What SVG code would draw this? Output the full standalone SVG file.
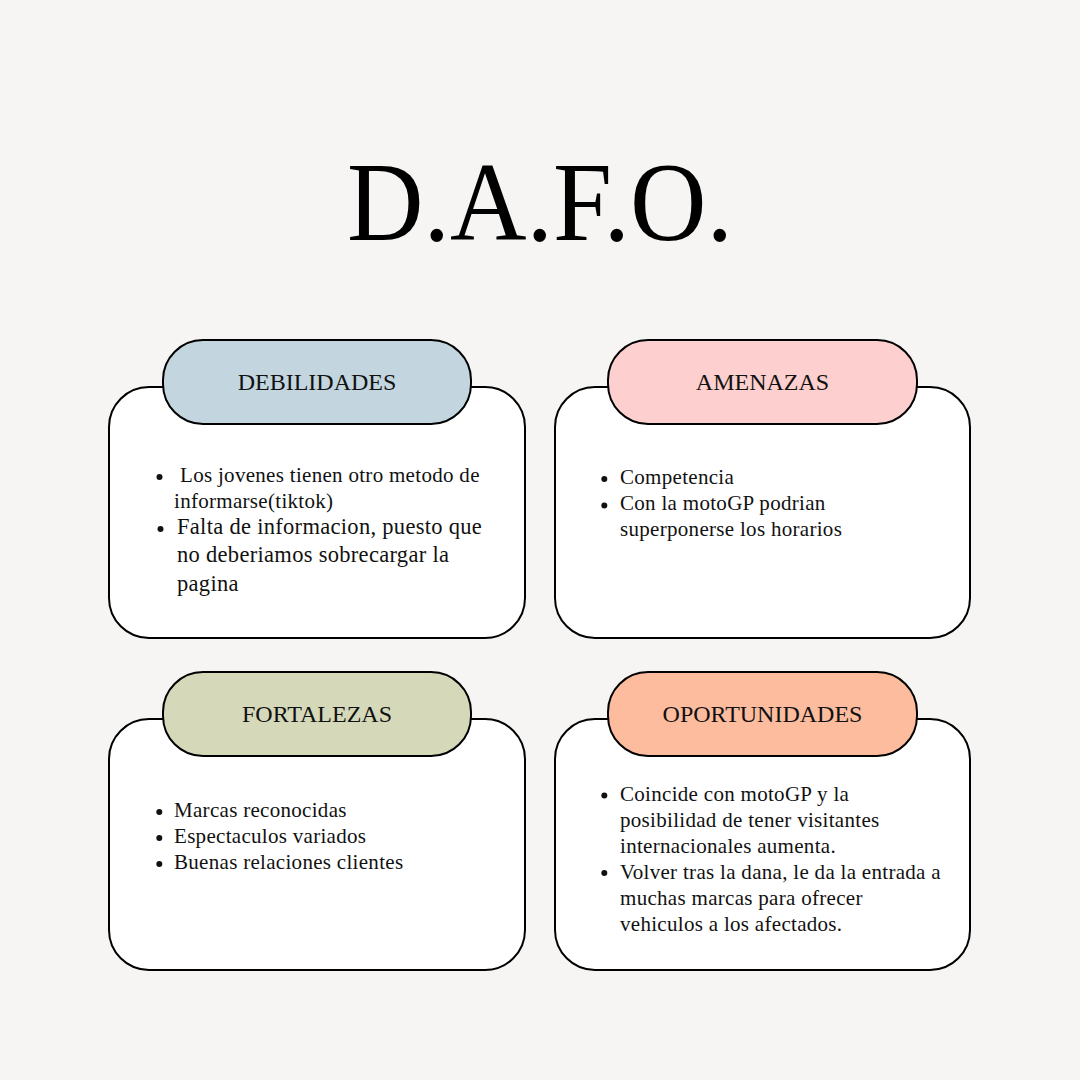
<svg xmlns="http://www.w3.org/2000/svg" width="1080" height="1080" viewBox="0 0 1080 1080">
  <style>
    .body { fill: #ffffff; stroke: #000000; stroke-width: 2; }
    .tab { stroke: #000000; stroke-width: 2; }
    .title { font-family: "Liberation Serif", "DejaVu Serif", serif; font-size: 112px; fill: #000000; }
    .head { font-family: "Liberation Serif", "DejaVu Serif", serif; font-size: 24px; fill: #111111; text-anchor: middle; }
    .item { font-family: "Liberation Serif", "DejaVu Serif", serif; font-size: 21px; letter-spacing: 0.3px; fill: #111111; }
    .big { font-size: 22.5px; }
    .dot { fill: #111111; }
  </style>
  <rect width="1080" height="1080" fill="#f6f5f3"/>

  <text class="title" x="540" y="240" text-anchor="middle" textLength="386" lengthAdjust="spacingAndGlyphs">D.A.F.O.</text>

  <!-- Debilidades -->
  <g id="debilidades">
    <rect class="body" x="109" y="387" width="416" height="251" rx="40"/>
    <rect class="tab" x="163" y="340" width="308" height="84" rx="40" fill="#c3d6df"/>
    <text class="head" x="317" y="390">DEBILIDADES</text>
    <circle class="dot" cx="159.5" cy="477" r="3"/>
    <text class="item" x="180" y="482">Los jovenes tienen otro metodo de</text>
    <text class="item" x="174" y="508">informarse(tiktok)</text>
    <circle class="dot" cx="160.5" cy="529" r="3"/>
    <text class="item big" x="177" y="534">Falta de informacion, puesto que</text>
    <text class="item big" x="177" y="562">no deberiamos sobrecargar la</text>
    <text class="item big" x="177" y="591">pagina</text>
  </g>

  <!-- Amenazas -->
  <g id="amenazas">
    <rect class="body" x="555" y="387" width="415" height="251" rx="40"/>
    <rect class="tab" x="608" y="340" width="309" height="84" rx="40" fill="#fdd0cf"/>
    <text class="head" x="762.5" y="390">AMENAZAS</text>
    <circle class="dot" cx="604.3" cy="479" r="3"/>
    <text class="item" x="620" y="484">Competencia</text>
    <circle class="dot" cx="604.3" cy="505.5" r="3"/>
    <text class="item" x="620" y="510">Con la motoGP podrian</text>
    <text class="item" x="620" y="536">superponerse los horarios</text>
  </g>

  <!-- Fortalezas -->
  <g id="fortalezas">
    <rect class="body" x="109" y="719" width="416" height="251" rx="40"/>
    <rect class="tab" x="163" y="672" width="308" height="84" rx="40" fill="#d5d9b9"/>
    <text class="head" x="317" y="722">FORTALEZAS</text>
    <circle class="dot" cx="159.3" cy="812" r="3"/>
    <text class="item" x="174" y="817">Marcas reconocidas</text>
    <circle class="dot" cx="159.3" cy="838" r="3"/>
    <text class="item" x="174" y="843">Espectaculos variados</text>
    <circle class="dot" cx="159.3" cy="864" r="3"/>
    <text class="item" x="174" y="869">Buenas relaciones clientes</text>
  </g>

  <!-- Oportunidades -->
  <g id="oportunidades">
    <rect class="body" x="555" y="719" width="415" height="251" rx="40"/>
    <rect class="tab" x="608" y="672" width="309" height="84" rx="40" fill="#fdbc9e"/>
    <text class="head" x="762.5" y="722">OPORTUNIDADES</text>
    <circle class="dot" cx="604.3" cy="795.5" r="3"/>
    <text class="item" x="620" y="801">Coincide con motoGP y la</text>
    <text class="item" x="620" y="827">posibilidad de tener visitantes</text>
    <text class="item" x="620" y="853">internacionales aumenta.</text>
    <circle class="dot" cx="604.3" cy="873" r="3"/>
    <text class="item" x="620" y="879">Volver tras la dana, le da la entrada a</text>
    <text class="item" x="620" y="905">muchas marcas para ofrecer</text>
    <text class="item" x="620" y="931">vehiculos a los afectados.</text>
  </g>

  <!-- no connectors in this chart -->
  <g id="connectors"/>
</svg>
